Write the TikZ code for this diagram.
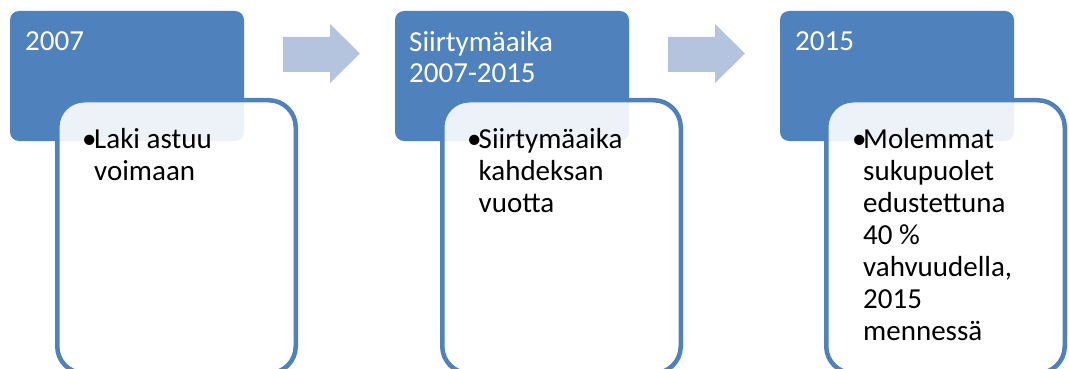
\documentclass[tikz,border=0pt]{standalone}
\usepackage{fontspec}
\setmainfont{Carlito}
\definecolor{accent}{HTML}{4F81BD}
\definecolor{arrowc}{HTML}{B4C3DE}
\begin{document}
\begin{tikzpicture}[x=1pt,y=-1pt,
  yearbox/.style={fill=accent, draw=none, rounded corners=9pt, minimum width=234pt, minimum height=130pt, anchor=north west, inner sep=0pt, outer sep=0pt},
  detailbox/.style={draw=accent, line width=4.5pt, fill=white, fill opacity=0.9, rounded corners=27pt, minimum width=238.5pt, minimum height=273pt, anchor=north west, inner sep=0pt, outer sep=0pt},
  titletext/.style={text=white, font=\fontsize{29}{31.5}\selectfont, align=left, anchor=base west, inner sep=0pt},
  bodytext/.style={text=black, font=\fontsize{29}{32.1}\selectfont, align=left, anchor=base west, inner sep=0pt},
  bulletmark/.style={text=black, font=\fontsize{29}{32}\selectfont, anchor=base west, inner sep=0pt},
  arrowshape/.style={fill=arrowc, draw=none}
]
\useasboundingbox (0,0) rectangle (1069,369);
\begin{scope}
\clip (0,0) rectangle (1069,369);
% group 1
\node[yearbox] (b1) at (10,11) {};
\node[detailbox] (d1) at (57.25,100.25) {};
\node[titletext] (t1) at (25,51) {2007};
\node[bulletmark] (u1) at (82,148) {•};
\node[bodytext] (x1) at (94,180.1) {Laki astuu\\voimaan};
% group 2
\node[yearbox] (b2) at (395,11) {};
\node[detailbox] (d2) at (442.25,100.25) {};
\node[titletext] (t2) at (409,82.5) {Siirtymäaika\\2007-2015};
\node[bulletmark] (u2) at (467,148) {•};
\node[bodytext] (x2) at (478.5,212.2) {Siirtymäaika\\kahdeksan\\vuotta};
% group 3
\node[yearbox] (b3) at (780,11) {};
\node[detailbox] (d3) at (826.25,100.25) {};
\node[titletext] (t3) at (795,51) {2015};
\node[bulletmark] (u3) at (852,148) {•};
\node[bodytext] (x3) at (863,340.6) {Molemmat\\sukupuolet\\edustettuna\\40 \%\\vahvuudella,\\2015\\mennessä};
% arrows
\fill[arrowshape] (283,37) -- (330,37) -- (330,24) -- (360,53.5) -- (330,83) -- (330,72) -- (283,72) -- cycle;
\fill[arrowshape] (668,37) -- (715,37) -- (715,24) -- (745,53.5) -- (715,83) -- (715,72) -- (668,72) -- cycle;
\end{scope}
\end{tikzpicture}
\end{document}
